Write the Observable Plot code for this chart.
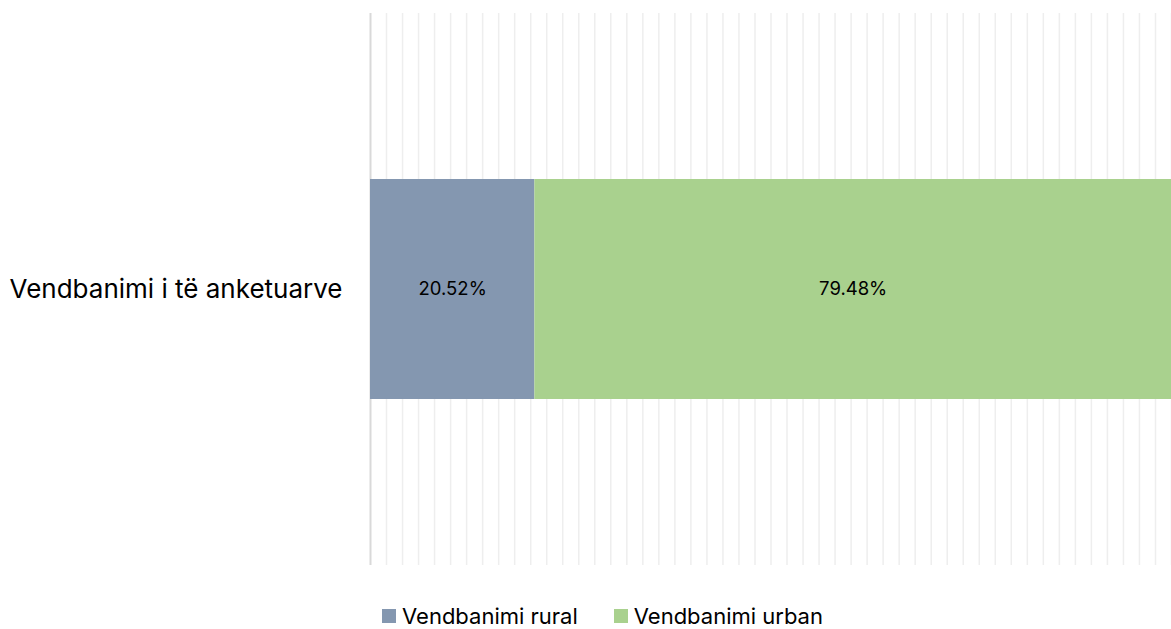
<!DOCTYPE html>
<html>
<head>
<meta charset="utf-8">
<script src="https://cdn.jsdelivr.net/npm/d3@7"></script>
<script src="https://cdn.jsdelivr.net/npm/@observablehq/plot@0.6"></script>
<style>
  html, body { margin: 0; padding: 0; background: #fff; }
  body { width: 1171px; height: 629px; overflow: hidden; position: relative; font-family: Inter, "Open Sans", sans-serif; }
  #legend { position: absolute; left: 382px; top: 604px; display: flex; font-size: 22px; line-height: 24px; color: #000; }
  .item { display: flex; align-items: center; }
  .sw { width: 14px; height: 14px; margin-right: 6px; display: inline-block; }
</style>
</head>
<body>
<div id="chart"></div>
<div id="legend"></div>
<script>
const categories = ["Vendbanimi i të anketuarve"];
const seriesNames = ["Vendbanimi rural", "Vendbanimi urban"];
const ruralValues = [20.52];
const urbanValues = [79.48];
const seriesColors = ["#8497b0", "#a9d18e"];
const gridTicks = d3.range(2, 101, 2);

const data = [];
categories.forEach((c, i) => {
  data.push({cat: c, series: seriesNames[0], value: ruralValues[i]});
  data.push({cat: c, series: seriesNames[1], value: urbanValues[i]});
});

const plot = Plot.plot({
  width: 1171,
  height: 578,
  marginLeft: 370,
  marginRight: 0,
  marginTop: 13,
  marginBottom: 13,
  style: {fontFamily: "Inter, 'Open Sans', sans-serif", background: "#fff"},
  x: {domain: [0, 100], range: [370, 1171], axis: null},
  y: {domain: categories, padding: 0.43, label: null},
  color: {domain: seriesNames, range: seriesColors},
  marks: [
    Plot.ruleX(gridTicks, {stroke: "#eeeeee", strokeWidth: 1.5}),
    Plot.ruleX([0], {stroke: "#d9d9d9", strokeWidth: 2}),
    Plot.barX(data, Plot.stackX({x: "value", y: "cat", fill: "series", order: seriesNames})),
    Plot.text(data, Plot.stackX({x: "value", y: "cat", z: "series", order: seriesNames,
      text: d => d.value.toFixed(2) + "%", fill: "#000", fontSize: 18.5})),
    Plot.axisY({tickSize: 0, tickPadding: 28, fontSize: 26, fill: "#000", label: null})
  ]
});
document.getElementById("chart").appendChild(plot);

const legend = document.getElementById("legend");
const gaps = [36, 0];
seriesNames.forEach((s, i) => {
  const it = document.createElement("div");
  it.className = "item";
  it.style.marginRight = gaps[i] + "px";
  const sw = document.createElement("span");
  sw.className = "sw";
  sw.style.background = seriesColors[i];
  it.appendChild(sw);
  it.appendChild(document.createTextNode(s));
  legend.appendChild(it);
});
</script>
</body>
</html>
